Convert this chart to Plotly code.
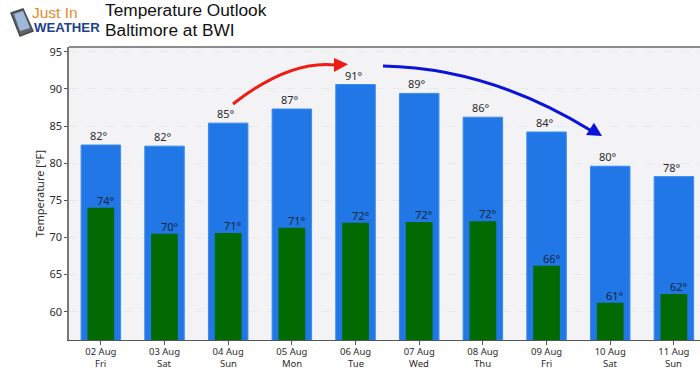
import plotly.graph_objects as go

dates = ["02 Aug", "03 Aug", "04 Aug", "05 Aug", "06 Aug", "07 Aug", "08 Aug", "09 Aug", "10 Aug", "11 Aug"]
weekdays = ["Fri", "Sat", "Sun", "Mon", "Tue", "Wed", "Thu", "Fri", "Sat", "Sun"]
highs = [82.45, 82.3, 85.4, 87.3, 90.6, 89.4, 86.2, 84.2, 79.6, 78.2]
lows = [74.0, 70.5, 70.6, 71.3, 72.0, 72.1, 72.2, 66.2, 61.2, 62.4]
high_labels = ["82°", "82°", "85°", "87°", "91°", "89°", "86°", "84°", "80°", "78°"]
low_labels = ["74°", "70°", "71°", "71°", "72°", "72°", "72°", "66°", "61°", "62°"]
y_ticks = [60, 65, 70, 75, 80, 85, 90, 95]

W, H = 700, 373
L, R, T, B = 69, 0, 47, 33
LABEL_FONT = "Noto Sans"
TEXT = "#2b2b2b"


def px(x, y):
    return (x - L) / (W - L - R), (H - B - y) / (H - T - B)


def path(cmds):
    out = []
    for c, pts in cmds:
        coords = " ".join("%.5f,%.5f" % px(*p) for p in pts)
        out.append(c + " " + coords)
    return " ".join(out)


xs = list(range(len(dates)))
fig = go.Figure()
fig.add_bar(x=xs, y=highs, width=0.62, marker=dict(color="#2277e6", line=dict(color="#3a8cf0", width=1)),
            hoverinfo="skip", showlegend=False)
fig.add_bar(x=xs, y=lows, width=0.42, marker=dict(color="#016b01", line=dict(width=0)),
            hoverinfo="skip", showlegend=False)

ann = []
for x, v, t in zip(xs, highs, high_labels):
    ann.append(dict(x=x, y=v, text=t, xref="x", yref="y", showarrow=False, yanchor="bottom", yshift=0, xshift=-2,
                    font=dict(family=LABEL_FONT, size=11, color=TEXT)))
for x, v, t in zip(xs, lows, low_labels):
    ann.append(dict(x=x, y=v, text=t, xref="x", yref="y", showarrow=False, yanchor="bottom", yshift=-2, xshift=5,
                    font=dict(family=LABEL_FONT, size=11, color="#10243a")))
for x, t in zip(xs, weekdays):
    ann.append(dict(x=x, y=0, xref="x", yref="paper", text=t, showarrow=False, yanchor="middle", yshift=-23,
                    font=dict(family=LABEL_FONT, size=9.5, color=TEXT)))


def text_px(x, y, text, size, color, family, anchor="left", **kw):
    xp, yp = px(x, y)
    ann.append(dict(x=xp, y=yp, xref="paper", yref="paper", text=text, showarrow=False, xanchor=anchor,
                    xshift=0, yanchor="middle", borderpad=0, font=dict(family=family, size=size, color=color), **kw))


text_px(104, 10, "Temperature Outlook", 17.3, "#111111", "Liberation Sans")
text_px(104, 30, "Baltimore at BWI", 17.3, "#111111", "Liberation Sans")
text_px(31, 12, "Just In", 15.5, "#e8892b", "Liberation Sans")
text_px(33, 27, "<b>WEATHER</b>", 13.2, "#1d3f8c", "Liberation Sans")

shapes = [
    # phone logo
    dict(type="path", xref="paper", yref="paper", layer="above", line=dict(color="#4a4a4a", width=1.5), fillcolor="#5d6470",
         path=path([("M", [(11, 13)]), ("L", [(23, 9)]), ("L", [(33, 31)]), ("L", [(20, 36)]), ("Z", [])])),
    dict(type="path", xref="paper", yref="paper", layer="above", line=dict(width=0), fillcolor="#9db8d8",
         path=path([("M", [(14, 14)]), ("L", [(23, 11)]), ("L", [(30, 28)]), ("L", [(20, 31)]), ("Z", [])])),
    # red arrow
    dict(type="path", xref="paper", yref="paper", layer="above", line=dict(color="#ee1c12", width=3),
         path=path([("M", [(233, 104)]), ("Q", [(290, 59.5), (336, 65)])])),
    dict(type="path", xref="paper", yref="paper", layer="above", line=dict(width=0), fillcolor="#ee1c12",
         path=path([("M", [(348, 64.3)]), ("L", [(334, 58)]), ("L", [(334, 72)]), ("Z", [])])),
    # blue arrow
    dict(type="path", xref="paper", yref="paper", layer="above", line=dict(color="#0a14d8", width=3),
         path=path([("M", [(383, 66)]), ("Q", [(489, 68), (590, 130)])])),
    dict(type="path", xref="paper", yref="paper", layer="above", line=dict(width=0), fillcolor="#0a14d8",
         path=path([("M", [(602, 136)]), ("L", [(594, 122.7)]), ("L", [(586, 135)]), ("Z", [])])),
    # top frame line
    dict(type="line", xref="paper", yref="paper", x0=0, x1=1, y0=1, y1=1, layer="above",
         line=dict(color="#8c8c8c", width=2)),
]

fig.update_layout(
    width=W, height=H, autosize=False,
    margin=dict(l=L, r=R, t=T, b=B, pad=0),
    barmode="overlay",
    plot_bgcolor="#f3f2f4", paper_bgcolor="white",
    font=dict(family=LABEL_FONT, size=10, color=TEXT),
    annotations=ann, shapes=shapes,
    xaxis=dict(range=[-0.5, 9.41], tickmode="array", tickvals=xs, ticktext=dates, showgrid=False,
               ticks="outside", ticklen=4, tickcolor="#555555", showline=True, linecolor="#555555",
               linewidth=1, tickfont=dict(size=9.5, color=TEXT), zeroline=False, ticklabelstandoff=-1),
    yaxis=dict(range=[56.2, 95.65], tickmode="array", tickvals=y_ticks, showgrid=True, gridcolor="#e9e8ea",
               griddash="dash", ticks="outside", ticklen=3, tickcolor="#555555", showline=True, linecolor="#777777",
               linewidth=1.5, tickfont=dict(size=11, color=TEXT), zeroline=False,
               title=dict(text="Temperature [°F]", font=dict(size=11, color=TEXT), standoff=3)),
)
fig.write_html("out.html", config=dict(displayModeBar=False),
               post_script="document.body.style.margin='0';document.documentElement.style.overflow='hidden';")
